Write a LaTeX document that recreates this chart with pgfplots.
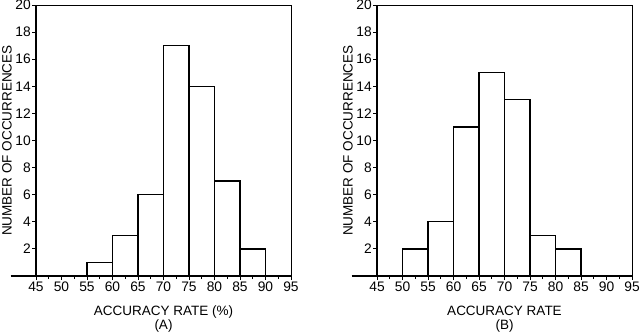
\documentclass[border=0pt]{standalone}
\usepackage{pgfplots}
\pgfplotsset{compat=1.18}
\usepackage{fontspec}
\setmainfont{Liberation Sans}
\begin{document}
\fontsize{13.5}{16}\selectfont
\begin{tikzpicture}
\useasboundingbox (0,0) rectangle (640pt,332pt);
\pgfplotsset{
  hist/.style={
    scale only axis, width=255pt, height=271pt,
    anchor=south west,
    xmin=45, xmax=95, ymin=0, ymax=20,
    xtick={45,50,...,95}, minor xtick={47.5,52.5,...,92.5},
    ytick={2,4,...,20},
    xtick pos=bottom, ytick pos=left,
    tick align=outside,
    major tick length=4pt, minor tick length=3pt,
    tick style={black, line width=0.9pt},
    axis line style={line width=0.9pt},
    clip=false,
    /pgf/number format/assume math mode=true,
    ticklabel style={font=\fontsize{13.8}{16}\selectfont},
    yticklabel style={inner sep=1pt},
    xticklabel style={inner sep=2pt},
    label style={font=\fontsize{13.5}{16}\selectfont},
    xlabel style={at={(axis description cs:0.5,-0.144)}, anchor=base},
    ylabel style={at={(axis description cs:-0.114,0.5)}, anchor=center},
    ylabel={NUMBER OF OCCURRENCES},
  }
}
\begin{axis}[hist, at={(36pt,56pt)}, xlabel={ACCURACY RATE (\%)}]
\addplot[ybar interval, draw=black, fill=none, line width=1.3pt]
  coordinates {(55,1) (60,3) (65,6) (70,17) (75,14) (80,7) (85,2) (90,0)};
\draw[line width=1.6pt] (axis cs:40,0) -- (axis cs:95,0);
\draw[line width=1.5pt] (axis cs:45,0) -- (axis cs:45,20);
\node[anchor=base] at (axis description cs:0.5,-0.199) {(A)};
\end{axis}
\begin{axis}[hist, at={(377pt,56pt)}, xlabel={ACCURACY RATE}]
\addplot[ybar interval, draw=black, fill=none, line width=1.3pt]
  coordinates {(50,2) (55,4) (60,11) (65,15) (70,13) (75,3) (80,2) (85,0)};
\draw[line width=1.6pt] (axis cs:40,0) -- (axis cs:95,0);
\draw[line width=1.5pt] (axis cs:45,0) -- (axis cs:45,20);
\node[anchor=base] at (axis description cs:0.5,-0.199) {(B)};
\end{axis}
\end{tikzpicture}
\end{document}
